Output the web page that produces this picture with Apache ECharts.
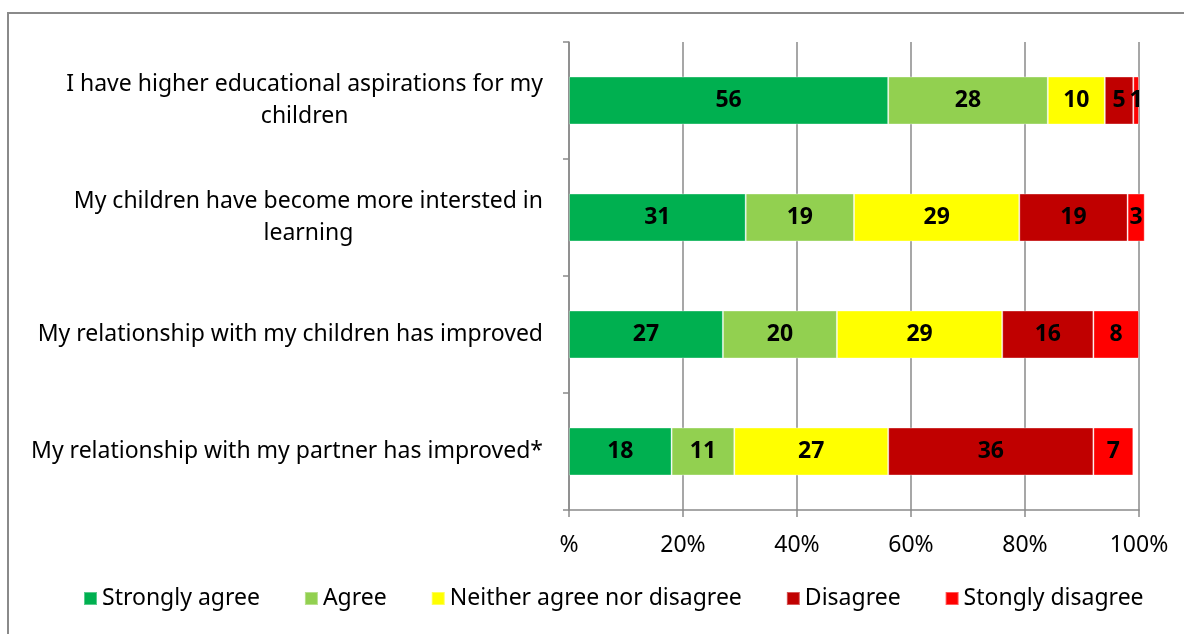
<!DOCTYPE html>
<html><head><meta charset="utf-8">
<script src="https://cdn.jsdelivr.net/npm/echarts@6/dist/echarts.min.js"></script>
<style>html,body{margin:0;padding:0;background:#fff}#c{width:1184px;height:634px}</style>
</head><body><div id="c"></div>
<script>
const categories = [
  "I have higher educational aspirations for my\nchildren",
  "My children have become more intersted in\nlearning",
  "My relationship with my children has improved",
  "My relationship with my partner has improved*"
];
const seriesNames = ["Strongly agree","Agree","Neither agree nor disagree","Disagree","Stongly disagree"];
const stronglyAgree = [56, 31, 27, 18];
const agree = [28, 19, 20, 11];
const neither = [10, 29, 29, 27];
const disagree = [5, 19, 16, 36];
const stronglyDisagree = [1, 3, 8, 7];
const xTicks = [0, 20, 40, 60, 80, 100];
const colors = ["#00B050","#92D050","#FFFF00","#C00000","#FF0000"];
const values = [stronglyAgree, agree, neither, disagree, stronglyDisagree];
const FONT = "Noto Sans";
const chart = echarts.init(document.getElementById('c'));
chart.setOption({
  animation:false,
  graphic:[{type:'rect',shape:{x:8,y:13,width:1300,height:700},style:{fill:'none',stroke:'#8a8a8a',lineWidth:2},z:-1}],
  grid:{left:569,right:45,top:42,bottom:124,containLabel:false},
  legend:{
    left:78, top:582, itemWidth:13, itemHeight:13, itemGap:44, icon:'rect',
    textStyle:{fontFamily:FONT,fontSize:23,color:'#000'},
    data:seriesNames
  },
  xAxis:{
    type:'value', min:0, max:100, interval:20,
    axisLine:{show:true,lineStyle:{color:'#8a8a8a',width:1.5}},
    axisTick:{show:true,length:7,lineStyle:{color:'#8a8a8a',width:1.5}},
    splitLine:{show:true,lineStyle:{color:'#8a8a8a',width:1.5}},
    axisLabel:{margin:24,fontFamily:FONT,fontSize:23,color:'#000',
      formatter:v=>v===0?'%':v+'%'}
  },
  yAxis:{
    type:'category', inverse:true, data:categories,
    axisLine:{show:true,lineStyle:{color:'#8a8a8a',width:1.5}},
    axisTick:{show:true,length:6,lineStyle:{color:'#8a8a8a',width:1.5}},
    axisLabel:{margin:26,fontFamily:FONT,fontSize:23,color:'#000',lineHeight:32,
      formatter:function(v){return v.split('\n').map(s=>'{c|'+s+'}').join('\n');},
      rich:{c:{align:'center',fontFamily:FONT,fontSize:23,color:'#000',lineHeight:32}}
    }
  },
  series: seriesNames.map((n,i)=>({
    name:n, type:'bar', stack:'total', barWidth:48, clip:false,
    itemStyle:{color:colors[i],borderColor:'rgba(255,255,255,0.35)',borderWidth:1},
    label:{show:true,position:'inside',fontFamily:FONT,fontSize:23,fontWeight:'bold',color:'#000'},
    data:values[i]
  }))
});
</script></body></html>
